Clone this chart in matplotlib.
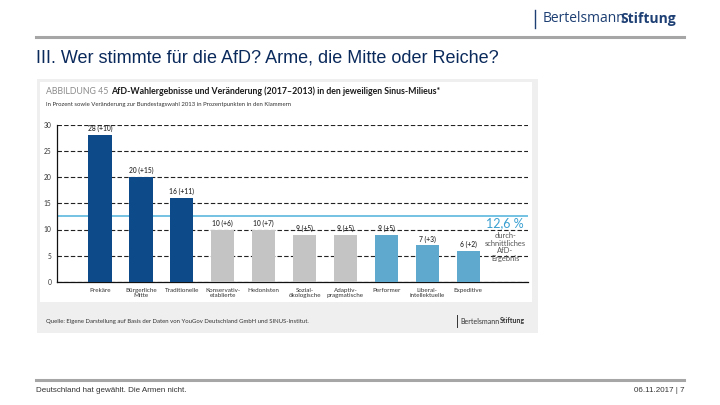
import matplotlib.pyplot as plt
from matplotlib.patches import Rectangle
from matplotlib.lines import Line2D

# data
milieus = ["Prekäre", "Bürgerliche\nMitte", "Traditionelle", "Konservativ-\netablierte", "Hedonisten",
           "Sozial-\nökologische", "Adaptiv-\npragmatische", "Performer", "Liberal-\nintellektuelle", "Expeditive"]
share_2017 = [28, 20, 16, 10, 10, 9, 9, 9, 7, 6]
change_vs_2013 = [10, 15, 11, 6, 7, 5, 5, 5, 3, 2]
groups = ["low", "low", "low", "mid", "mid", "mid", "mid", "high", "high", "high"]
average = 12.6

group_colors = {"low": "#0d4a8a", "mid": "#c4c4c4", "high": "#5fa9cf"}

W, H = 720, 405
fig = plt.figure(figsize=(7.2, 4.05), dpi=100)
fig.patch.set_facecolor("white")
renderer = fig.canvas.get_renderer()

def fx(px):
	return px / W

def fy(py):
	return 1 - py / H

def text_after(t, s, gap=0.0, **kw):
	# place s right after text t
	bb = t.get_window_extent(renderer=renderer)
	return fig.text(bb.x1 / W + gap, t.get_position()[1], s, **kw)

# slide frame lines
fig.add_artist(Line2D([fx(36), fx(684)], [fy(36.5), fy(36.5)], color="#a6a6a6", lw=2.2))
fig.add_artist(Line2D([fx(36), fx(684)], [fy(380), fy(380)], color="#a6a6a6", lw=2.2))

fig.text(fx(36), fy(58), "III. Wer stimmte für die AfD? Arme, die Mitte oder Reiche?",
	fontsize=13, color="#0b2a5c", family="Liberation Sans", va="center", ha="left")
fig.text(fx(36), fy(390), "Deutschland hat gewählt. Die Armen nicht.", fontsize=5.8,
	color="#333333", family="Liberation Sans", va="center")
fig.text(fx(684), fy(390), "06.11.2017 | 7", fontsize=5.8, color="#333333",
	family="Liberation Sans", va="center", ha="right")

# logo top right
fig.add_artist(Line2D([fx(535), fx(535)], [fy(10), fy(28)], color="#1d3f73", lw=1.0))
logo = fig.text(fx(543), fy(19), "Bertelsmann", fontsize=10, color="#1d3f73", va="center", ha="left",
	family="Open Sans")
text_after(logo, "Stiftung", gap=-5 / W, fontsize=10, color="#1d3f73", va="center", ha="left",
	family="Open Sans", fontweight="bold")

# embedded chart panel
fig.add_artist(Rectangle((fx(37), fy(333)), fx(538 - 37), (333 - 79) / H, transform=fig.transFigure,
	facecolor="#efefef", edgecolor="none", zorder=0))
fig.add_artist(Rectangle((fx(40), fy(302)), fx(532 - 40), (302 - 82) / H, transform=fig.transFigure,
	facecolor="#ffffff", edgecolor="none", zorder=0))

head = fig.text(fx(46), fy(91), "ABBILDUNG 45 ", fontsize=6.3, color="#8c8c8c", va="center", ha="left",
	family="Lato")
text_after(head, "AfD-Wahlergebnisse und Veränderung (2017–2013) in den jeweiligen Sinus-Milieus*",
	fontsize=6.3, color="#1a1a1a", va="center", ha="left", family="Lato", fontweight="bold")
fig.text(fx(46), fy(104), "In Prozent sowie Veränderung zur Bundestagswahl 2013 in Prozentpunkten in den Klammern",
	fontsize=4.3, color="#333333", va="center", ha="left", family="Lato")
fig.text(fx(46), fy(321), "Quelle: Eigene Darstellung auf Basis der Daten von YouGov Deutschland GmbH und SINUS-Institut.",
	fontsize=4.3, color="#333333", va="center", ha="left", family="Lato")
fig.add_artist(Line2D([fx(457), fx(457)], [fy(315), fy(327)], color="#333333", lw=0.7))
small = fig.text(fx(460), fy(321), "Bertelsmann", fontsize=5, color="#333333", va="center", ha="left",
	family="Lato")
text_after(small, "Stiftung", gap=1 / W, fontsize=5, color="#333333", va="center", ha="left",
	family="Lato", fontweight="bold")

ax = fig.add_axes([fx(57), fy(282), fx(528 - 57), (282 - 124.5) / H])
ax.set_facecolor("none")
x = list(range(len(milieus)))
colors = [group_colors[g] for g in groups]
ax.bar(x, share_2017, width=0.57, color=colors, zorder=3)

for xi, v, d in zip(x, share_2017, change_vs_2013):
	ax.text(xi, v + 0.5, f"{v} (+{d})", ha="center", va="bottom", fontsize=4.9,
		color="#333333", family="Lato", fontweight="semibold", zorder=4)

ax.axhline(average, color="#5bb7de", lw=1.2, zorder=2)
ax.text(9.9, average - 0.2, "12,6 %", ha="center", va="top", fontsize=9, color="#3a9fd0",
	family="Lato", zorder=4)
ax.text(9.9, average - 3.0, "durch-\nschnittliches\nAfD-\nErgebnis", ha="center", va="top",
	fontsize=5.4, color="#555555", family="Lato", linespacing=1.15, zorder=4)

ax.set_xlim(-1.05, 10.46)
ax.set_ylim(0, 30)
ax.set_yticks([0, 5, 10, 15, 20, 25, 30])
ax.set_yticklabels(["0", "5", "10", "15", "20", "25", "30"], fontsize=4.8, family="Lato", color="#333333")
ax.set_xticks(x)
ax.set_xticklabels(milieus, fontsize=4.5, family="Lato", color="#333333", linespacing=1.0)
ax.tick_params(axis="both", length=0, pad=4)
ax.yaxis.grid(True, color="#222222", linestyle=(0, (4, 2)), lw=0.8, zorder=1)
for side in ["top", "right"]:
	ax.spines[side].set_visible(False)
ax.spines["left"].set_color("#111111")
ax.spines["bottom"].set_color("#111111")
ax.spines["left"].set_linewidth(0.9)
ax.spines["bottom"].set_linewidth(0.9)

plt.savefig("out.png", dpi=100)
